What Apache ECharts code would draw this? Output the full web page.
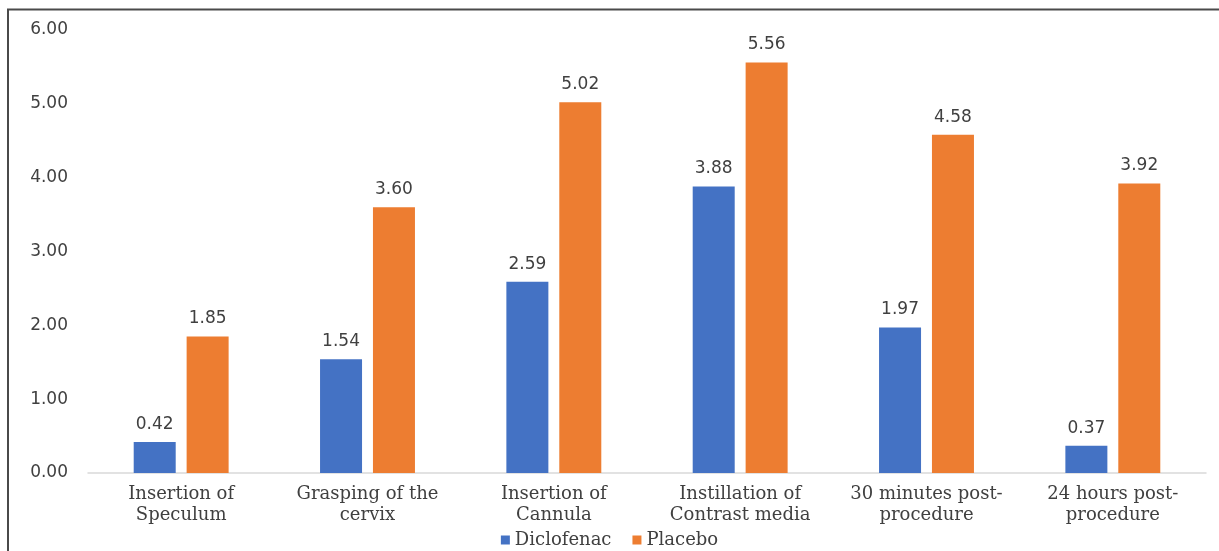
<!DOCTYPE html>
<html>
<head>
<meta charset="utf-8">
<script src="https://cdn.jsdelivr.net/npm/echarts@6/dist/echarts.min.js"></script>
<style>
  html, body { margin: 0; padding: 0; background: #ffffff; }
  #chart { width: 1219px; height: 551px; }
</style>
</head>
<body>
<div id="chart"></div>
<script>
// Pain scores by procedure step
const categories = [
  'Insertion of\nSpeculum',
  'Grasping of the\ncervix',
  'Insertion of\nCannula',
  'Instillation of\nContrast media',
  '30 minutes post-\nprocedure',
  '24 hours post-\nprocedure'
];
const diclofenac = [0.42, 1.54, 2.59, 3.88, 1.97, 0.37];
const placebo = [1.85, 3.60, 5.02, 5.56, 4.58, 3.92];
const seriesNames = ['Diclofenac', 'Placebo'];

const textColor = '#404040';
const serif = '"DejaVu Serif", "Liberation Serif", serif';
const sans = '"DejaVu Sans", Verdana, sans-serif';

const chart = echarts.init(document.getElementById('chart'), null, { renderer: 'canvas' });

const valueLabel = {
  show: true,
  position: 'top',
  distance: 9,
  color: textColor,
  fontFamily: sans,
  fontSize: 17,
  formatter: p => p.value.toFixed(2)
};

chart.setOption({
  animation: false,
  backgroundColor: '#ffffff',
  grid: { left: 88, right: 13, top: 30, bottom: 78 },
  legend: {
    data: seriesNames,
    bottom: 0,
    left: 'center',
    padding: [2, 5, 2, 5],
    icon: 'rect',
    itemWidth: 9,
    itemHeight: 9,
    itemGap: 21,
    textStyle: { color: textColor, fontFamily: serif, fontSize: 18 }
  },
  xAxis: {
    type: 'category',
    data: categories,
    axisLine: { lineStyle: { color: '#d9d9d9', width: 1.5 } },
    axisTick: { show: false },
    axisLabel: {
      color: textColor,
      fontFamily: serif,
      fontSize: 18,
      lineHeight: 21,
      margin: 11,
      interval: 0
    }
  },
  yAxis: {
    type: 'value',
    min: 0,
    max: 6,
    interval: 1,
    axisLine: { show: false },
    axisTick: { show: false },
    splitLine: { show: false },
    axisLabel: {
      color: textColor,
      fontFamily: sans,
      fontSize: 17,
      margin: 20,
      formatter: v => v.toFixed(2)
    }
  },
  series: [
    {
      name: seriesNames[0],
      type: 'bar',
      data: diclofenac,
      barWidth: 42,
      barGap: '26%',
      itemStyle: { color: '#4472C4' },
      label: valueLabel
    },
    {
      name: seriesNames[1],
      type: 'bar',
      data: placebo,
      barWidth: 42,
      barGap: '26%',
      itemStyle: { color: '#ED7D31' },
      label: valueLabel
    }
  ],
  graphic: [
    // frame edges along the top and left
    { type: 'line', shape: { x1: 7, y1: 9.5, x2: 1219, y2: 9.5 }, style: { stroke: '#4a4a4a', lineWidth: 2 }, silent: true },
    { type: 'line', shape: { x1: 8, y1: 9, x2: 8, y2: 551 }, style: { stroke: '#4a4a4a', lineWidth: 2 }, silent: true }
  ]
});
</script>
</body>
</html>
